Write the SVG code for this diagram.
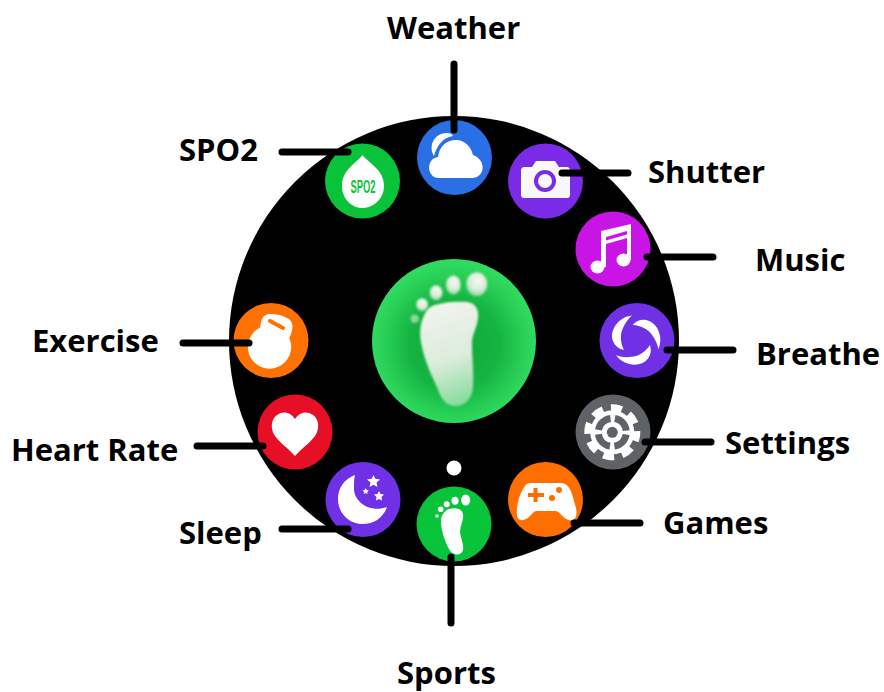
<svg xmlns="http://www.w3.org/2000/svg" width="884" height="692" viewBox="0 0 884 692">
<style>
.l{font-family:"Open Sans","Liberation Sans",sans-serif;font-weight:700;font-size:31px;fill:#000}
.c{stroke:#000;stroke-width:7;stroke-linecap:round;fill:none}
.w{fill:#fff}
</style>
<defs>
<radialGradient id="bg" cx="0.5" cy="0.52" r="0.5"><stop offset="0" stop-color="#0fa638"/><stop offset="0.55" stop-color="#15b442"/><stop offset="0.85" stop-color="#28d055"/><stop offset="1" stop-color="#30da60"/></radialGradient>
<linearGradient id="sole" x1="0.4" y1="0" x2="0.6" y2="1"><stop offset="0" stop-color="#f1f4ee"/><stop offset="0.55" stop-color="#dcecdc"/><stop offset="1" stop-color="#86dc9c"/></linearGradient>
<radialGradient id="toe" cx="0.55" cy="0.35" r="0.7"><stop offset="0" stop-color="#f8f9f6"/><stop offset="0.6" stop-color="#d5ebd6"/><stop offset="1" stop-color="#6fd08a"/></radialGradient>
<filter id="soft" x="-20%" y="-20%" width="140%" height="140%"><feGaussianBlur stdDeviation="0.9"/></filter>
<path id="arm" d="M632 315.500C618 317 609 331 613 341C615 346 619 349 624 350C620 342 620 334 623 328C625 323 628 319 632 315.500Z"/>
</defs>
<rect width="884" height="692" fill="#fff"/>
<circle id="dial" cx="454" cy="341" r="225" fill="#000"/>
<g id="center-app">
<circle cx="454" cy="341" r="82" fill="url(#bg)"/>
<g filter="url(#soft)">
<path d="M432 306C442 302 458 301 467 302C476 303 479 310 478 318C477 328 472 334 472 343C472 358 474 374 473 387C472 399 465 406 455 406C447 406 442 400 439 392C432 376 425 362 422 347C419 334 420 326 423 318C425 312 428 308 432 306Z" fill="url(#sole)"/>
<ellipse cx="476.700" cy="284.300" rx="10.500" ry="12" fill="url(#toe)"/>
<ellipse cx="453.300" cy="285" rx="7.500" ry="9.500" fill="url(#toe)"/>
<ellipse cx="436" cy="292.700" rx="6.500" ry="7.500" fill="url(#toe)"/>
<ellipse cx="422" cy="304.700" rx="6" ry="6.500" fill="url(#toe)"/>
<circle cx="414.700" cy="318.700" r="4.200" fill="#8fd7a0"/>
</g>
</g>
<circle id="page-dot" cx="454" cy="468" r="7.500" fill="#fff"/>
<g id="weather">
<circle cx="454.500" cy="157.500" r="37.500" fill="#2a6fe4"/>
<path class="w" d="M434 156C428 146 434 133 447 133C450 133 452 134 453 136C444 137 437 145 434 156Z"/>
<path class="w" d="M439 178H472C485 178 487 160 473 155C471 147 465 140 456 140C446 140 439 147 438 157C426 158 426 178 439 178Z"/>
</g>
<g id="shutter">
<circle cx="545.500" cy="181" r="37.500" fill="#7b2be8"/>
<path fill="#f8f8f8" d="M524 167C522 167 521 169 521 170V195C521 197 522 198 524 198H567C569 198 570 197 570 195V170C570 169 569 167 567 167H559L555 161H536L532 167Z"/>
<circle cx="545" cy="181" r="9" fill="none" stroke="#7b2be8" stroke-width="4"/>
</g>
<g id="music">
<circle cx="613" cy="249" r="37.500" fill="#c815e6"/>
<path class="w" d="M601 231L631 224V260H627V238L606 244V267H601Z"/>
<ellipse cx="597.500" cy="267" rx="7" ry="6.500" class="w"/>
<ellipse cx="623.500" cy="260" rx="7" ry="6.500" class="w"/>
<path d="M606 237L627 231V234.500L606 240.500Z" fill="#c815e6"/>
</g>
<g id="breathe">
<circle cx="637" cy="340.500" r="37.500" fill="#7031e6"/>
<g class="w">
<use href="#arm"/>
<use href="#arm" transform="rotate(120 635.500 340)"/>
<use href="#arm" transform="rotate(240 635.500 340)"/>
</g>
</g>
<g id="settings">
<circle cx="613" cy="432" r="37.500" fill="#5f6368"/>
<g transform="rotate(8 612.300 432.300)">
<circle cx="612.300" cy="432.300" r="24.500" fill="none" stroke="#fff" stroke-width="7" stroke-dasharray="11.200 8.040" stroke-dashoffset="5.600"/>
</g>
<circle cx="612.300" cy="432.300" r="22" class="w"/>
<circle cx="612.300" cy="432.300" r="14" fill="none" stroke="#5f6368" stroke-width="7" stroke-dasharray="17.500 4.490" stroke-dashoffset="-2.250"/>
<circle cx="612.300" cy="432.300" r="5.500" fill="#5f6368"/>
</g>
<g id="games">
<circle cx="545.500" cy="499.500" r="37.500" fill="#ff6f00"/>
<path class="w" d="M530 483H561C567 483 570 488 572 494L576 508C578 518 574 521 569 520C563 519 560 511 555 511H537C532 511 530 519 523 520C518 521 516 517 517 508C518 500 520 494 523 489C525 485 527 483 530 483Z"/>
<path d="M533.500 488H537.500V493H544V497H537.500V502H533.500V497H528V493H533.500Z" fill="#ff6f00"/>
<circle cx="552" cy="498" r="3" fill="#ff6f00"/>
<circle cx="559" cy="490" r="3" fill="#ff6f00"/>
</g>
<g id="sports">
<circle cx="454" cy="524" r="37.500" fill="#09c43a"/>
<path class="w" d="M449 509C456 507 462 509 463 514C464 520 460 526 460 532C461 539 464 545 463 550C462 555 455 556 451 552C446 545 441 531 441 522C441 515 444 511 449 509Z"/>
<ellipse cx="465.700" cy="500" rx="4.500" ry="5.500" class="w"/><ellipse cx="455" cy="500.700" rx="3.500" ry="4" class="w"/><circle cx="446.700" cy="504.300" r="3" class="w"/><circle cx="440.700" cy="509.300" r="2.800" class="w"/><circle cx="437" cy="516" r="1.800" class="w"/>
</g>
<g id="sleep">
<circle cx="363" cy="499.500" r="37.500" fill="#7031e6"/>
<path class="w" d="M355 475C344 479 338 488 338 499C338 513 349 524 362 524C374 524 383 518 387 507C371 513 353 503 354 487C354 483 354 479 355 475Z"/>
<path class="w" d="M373.500 475L375.300 478.800L380 479.400L376.500 482.500L377.500 487L373.500 484.700L369.500 487L370.500 482.500L367 479.400L371.700 478.800Z"/>
<path class="w" d="M379 491L380.500 494L384 494.500L381.500 497L382 500.500L379 499L376 500.500L376.500 497L374 494.500L377.500 494Z"/>
<path class="w" d="M365.700 488L366.700 490L368.900 490.400L367.200 491.900L367.600 494L365.700 493L363.800 494L364.200 491.900L362.500 490.400L364.700 490Z"/>
</g>
<g id="heart-rate">
<circle cx="295" cy="432" r="37.500" fill="#e60f26"/>
<path class="w" d="M295 456C290 450 279 442 275 436C270 429 271 419 277 415C284 410 291 413 295 419C299 413 306 410 313 415C319 419 320 429 315 436C311 442 300 450 295 456Z"/>
</g>
<g id="exercise">
<circle cx="271" cy="340.500" r="37.500" fill="#ff7100"/>
<circle cx="269.500" cy="347" r="21.700" class="w"/>
<path class="w" d="M260 332C260 320 263 314 270 314C278 314 285 316 290 320C294 324 293 332 288 340Z"/>
<path d="M270 321L283 328" stroke="#ff7100" stroke-width="4" stroke-linecap="round"/>
</g>
<g id="spo2">
<circle cx="362.500" cy="181" r="37.500" fill="#09c43a"/>
<path class="w" d="M362.500 155C368 163 384 169 384 186C384 198 374 208 362.500 208C351 208 342 198 342 186C342 169 357 163 362.500 155Z"/>
<text x="363" y="193" text-anchor="middle" font-family="'Liberation Sans',sans-serif" font-size="18" font-weight="700" fill="#09c43a" textLength="25" lengthAdjust="spacingAndGlyphs">SPO2</text>
</g>
<g id="connectors">
<line class="c" x1="454" y1="64" x2="454" y2="130"/>
<line class="c" x1="282" y1="152" x2="348" y2="152"/>
<line class="c" x1="562" y1="173" x2="628" y2="173"/>
<line class="c" x1="647" y1="257" x2="713" y2="257"/>
<line class="c" x1="667" y1="350" x2="733" y2="350"/>
<line class="c" x1="645" y1="442" x2="711" y2="442"/>
<line class="c" x1="574" y1="523" x2="640" y2="523"/>
<line class="c" x1="451" y1="557" x2="451" y2="623"/>
<line class="c" x1="282" y1="529" x2="348" y2="529"/>
<line class="c" x1="197" y1="446" x2="263" y2="446"/>
<line class="c" x1="183" y1="343" x2="249" y2="343"/>
</g>
<g id="labels">
<text class="l" x="387" y="39">Weather</text>
<text class="l" x="179" y="161">SPO2</text>
<text class="l" x="648" y="183">Shutter</text>
<text class="l" x="755" y="271">Music</text>
<text class="l" x="756" y="365">Breathe</text>
<text class="l" x="725" y="454">Settings</text>
<text class="l" x="663" y="534">Games</text>
<text class="l" x="397" y="684">Sports</text>
<text class="l" x="179" y="544">Sleep</text>
<text class="l" x="11" y="461">Heart Rate</text>
<text class="l" x="32" y="352">Exercise</text>
</g>
</svg>
